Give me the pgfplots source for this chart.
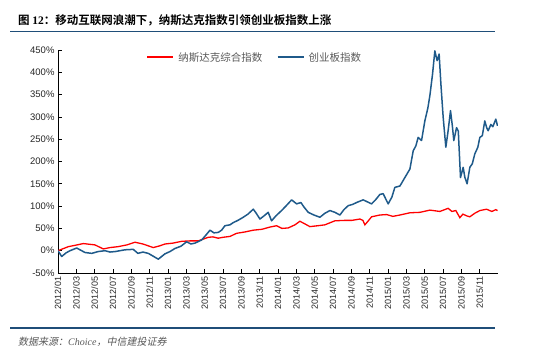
\documentclass[border=0pt]{standalone}
\usepackage{fontspec}
\usepackage{pgfplots}
\pgfplotsset{compat=1.18}
\usepackage{pgfplotstable}
\setmainfont{Liberation Sans}
\newfontfamily\cjk{Noto Sans CJK SC}
\newfontfamily\cjkb{Noto Sans CJK SC Bold}
\newfontfamily\cjkit[FakeSlant=0.2]{Noto Sans CJK SC}
\newfontfamily\serifit{Liberation Serif}
\definecolor{cybblue}{HTML}{1F5A8A}
\definecolor{nsdred}{HTML}{FF0000}
\definecolor{rule}{HTML}{1F4E79}
\definecolor{lgray}{HTML}{595959}

\pgfplotstableread{
m v
0 0
0.40 -13
0.87 -5
1.31 0
2.04 6
2.40 2
2.94 -4
3.68 -6
4.36 -2
5.13 0
5.67 -3
6.22 -2
6.76 0
7.31 2
8.21 3
8.72 -6
9.27 -3
9.85 -6
10.36 -12
10.94 -19
11.67 -7
12.21 -2
12.76 5
13.41 10
14.03 20
14.50 15
14.94 17
15.67 24
16.14 35
16.58 46
17.01 40
17.48 41
17.85 46
18.21 56
18.76 58
19.12 63
19.63 68
20.21 75
20.72 82
21.30 93
21.59 85
22.03 71
22.47 78
22.93 86
23.30 67
23.77 78
24.39 90
24.86 100
25.49 114
26.03 105
26.50 108
26.83 98
27.30 86
27.92 80
28.57 75
29.12 84
29.66 90
30.21 86
30.75 80
31.19 92
31.66 101
32.17 104
32.57 108
33.29 114
33.70 110
34.21 105
34.68 115
35.11 126
35.47 128
35.66 120
36.02 105
36.42 120
36.75 142
37.30 145
37.84 164
38.39 183
38.75 224
39.04 235
39.29 254
39.66 247
40.02 291
40.35 320
40.57 348
40.86 396
41.11 448
41.36 426
41.58 441
41.77 374
42.02 299
42.31 232
42.56 269
42.82 314
43.02 280
43.18 247
43.48 276
43.67 268
43.91 164
44.20 187
44.38 165
44.63 150
44.93 187
45.20 195
45.47 217
45.80 232
46.02 254
46.29 258
46.56 291
46.78 275
46.93 269
47.22 283
47.44 278
47.76 295
47.95 280
}\cybdata

\pgfplotstableread{
m v
0 0
1.12 9
1.85 12
2.76 16
4.03 13
4.94 4
5.67 7
6.54 9
7.52 13
8.40 19
9.27 15
10.39 7
11.12 11
11.67 15
12.54 17
13.49 21
14.39 22
15.30 22
16.39 30
16.90 31
17.48 28
17.99 30
18.76 32
19.49 39
20.39 42
21.30 46
22.25 48
23.12 53
23.85 56
24.43 50
25.11 51
25.85 58
26.39 66
26.94 60
27.48 54
28.35 56
29.12 58
30.21 67
31.30 68
32.06 68
32.93 71
33.26 68
33.48 58
33.81 66
34.21 76
35.11 80
35.85 81
36.53 77
37.30 80
38.39 85
39.48 86
40.57 91
41.66 88
42.56 95
42.97 88
43.40 90
43.84 74
44.17 82
44.60 78
44.93 76
45.47 84
46.02 90
46.75 93
47.33 88
47.76 92
47.95 90
}\nsddata

\begin{document}
\begin{tikzpicture}[x=1pt,y=1pt]
\path[use as bounding box] (0,0) rectangle (550,361);
% title
\node[anchor=west,inner sep=0pt] at (18,341) {\cjkb\fontsize{11.5}{13}\selectfont 图 {\bfseries\fontspec{Liberation Serif}12}：移动互联网浪潮下，纳斯达克指数引领创业板指数上涨};
\draw[rule,line width=1.6pt] (10,329.5) -- (495,329.5);
% footer
\draw[rule,line width=1.6pt] (10,33) -- (495,33);
\node[anchor=west,inner sep=0pt,color=lgray] at (18,19) {\cjkit\fontsize{10}{12}\selectfont 数据来源：{\serifit\itshape Choice}，中信建投证券};

\begin{axis}[
  at={(58pt,88pt)}, anchor=south west,
  scale only axis, width=440pt, height=223pt,
  xmin=0, xmax=48, ymin=-50, ymax=450,
  axis x line*=bottom, axis y line*=left,
  xtick={0,2,...,46},
  xticklabels={2012/01,2012/03,2012/05,2012/07,2012/09,2012/11,2013/01,2013/03,2013/05,2013/07,2013/09,2013/11,2014/01,2014/03,2014/05,2014/07,2014/09,2014/11,2015/01,2015/03,2015/05,2015/07,2015/09,2015/11},
  ytick={-50,0,...,450},
  yticklabel={\pgfmathprintnumber{\tick}\%},
  /pgf/number format/assume math mode=true,
  tick align=inside, major tick length=4pt,
  tick style={black, line width=0.6pt},
  axis line style={black, line width=0.8pt},
  x tick label style={rotate=90, anchor=east, font=\fontsize{9}{9}\selectfont, text=black!85},
  y tick label style={font=\fontsize{9.5}{10}\selectfont, text=black!85},
  legend style={at={(0.447,0.967)}, anchor=center, draw=none, fill=none,
    legend columns=2, font=\cjk\fontsize{10.5}{12}\selectfont,
    /tikz/every odd column/.append style={column sep=2pt},
    /tikz/every even column/.append style={column sep=12pt}},
]
\addlegendimage{draw=nsdred, line width=2.2pt, legend image code/.code={\draw[draw=nsdred, line width=2.2pt] (0pt,0pt) -- (26pt,0pt);}}
\addlegendentry{\textcolor{lgray}{纳斯达克综合指数}}
\addlegendimage{draw=cybblue, line width=2.2pt, legend image code/.code={\draw[draw=cybblue, line width=2.2pt] (0pt,0pt) -- (26pt,0pt);}}
\addlegendentry{\textcolor{lgray}{创业板指数}}
\addplot[draw=nsdred, line width=1.3pt, forget plot] table[x=m,y=v] {\nsddata};
\addplot[draw=cybblue, line width=1.5pt, line join=round, forget plot] table[x=m,y=v] {\cybdata};
\end{axis}
\end{tikzpicture}
\end{document}
